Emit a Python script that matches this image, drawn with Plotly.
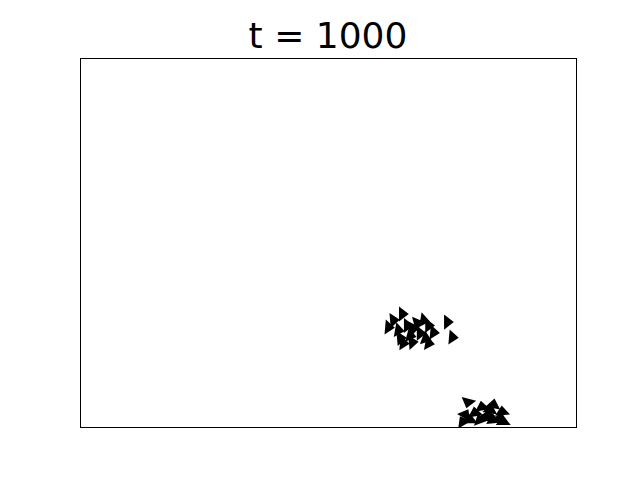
import plotly.graph_objects as go

# boid positions (data units, axes 0..100 both) and headings (degrees, clockwise from right)
flock_a_x = [64.9, 63.1, 62.1, 69.2, 74.0, 75.0, 64.5, 65.1, 70.2, 67.1, 68.5, 66.5, 71.2, 70.2, 67.9, 64.1, 65.9, 69.6, 66.9]
flock_a_y = [30.7, 29.0, 27.1, 29.0, 28.5, 24.4, 24.1, 22.8, 22.8, 26.8, 25.5, 24.9, 25.7, 27.6, 28.2, 26.3, 27.6, 24.1, 23.0]
flock_a_ang = [0, -5, 5, 10, 0, 5, -5, 5, 10, -10, 0, 15, 5, 0, -15, 10, 0, 20, -5]

flock_b_x = [78.2, 81.0, 83.3, 85.1, 77.6, 79.6, 82.3, 84.7, 78.6, 80.6, 83.3, 81.7, 85.3, 77.2, 82.7]
flock_b_y = [6.8, 5.4, 6.0, 4.1, 3.3, 3.8, 3.3, 2.4, 1.9, 1.9, 1.9, 2.7, 1.4, 1.4, 4.6]
flock_b_ang = [105, -100, -80, -95, -60, -100, -85, -75, -90, -110, -95, -70, -90, -120, -80]

fig = go.Figure()
for xs, ys, angs in [(flock_a_x, flock_a_y, flock_a_ang), (flock_b_x, flock_b_y, flock_b_ang)]:
    fig.add_trace(go.Scatter(
        x=xs, y=ys, mode="markers",
        marker=dict(symbol="triangle-right", size=13, color="black", angle=angs,
                    line=dict(width=0)),
        cliponaxis=True, showlegend=False, hoverinfo="skip"))

axis_style = dict(range=[0, 100], showgrid=False, zeroline=False, showticklabels=False,
                  ticks="", showline=True, linecolor="black", linewidth=1, mirror=True)
fig.update_layout(
    width=640, height=480,
    margin=dict(l=73, r=72, t=51, b=61),
    paper_bgcolor="white", plot_bgcolor="white",
    title=dict(text="t = 1000", x=0.5, xanchor="center", y=0.943, yanchor="middle",
               font=dict(family="DejaVu Sans", size=36, color="black")),
    xaxis=axis_style, yaxis=axis_style,
)
fig.write_html("out.html")
